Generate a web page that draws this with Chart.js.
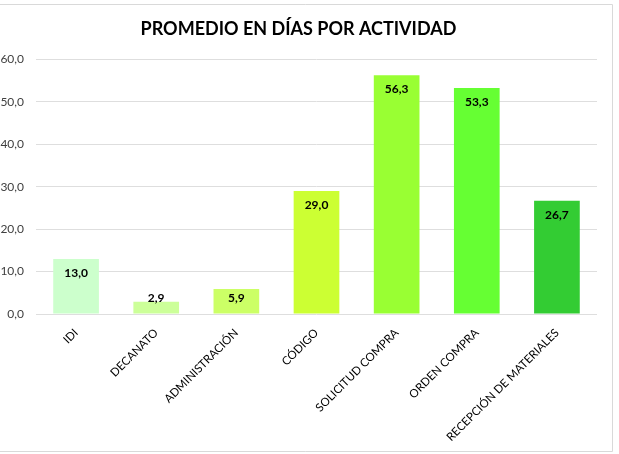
<!DOCTYPE html>
<html>
<head>
<meta charset="utf-8">
<script src="https://cdn.jsdelivr.net/npm/chart.js@4"></script>
<style>
  html, body { margin: 0; padding: 0; background: #fff; }
  #wrap { position: relative; width: 619px; height: 454px; }
</style>
</head>
<body>
<div id="wrap"><canvas id="chart" width="619" height="454"></canvas></div>
<script>
// chart data
var actividades = ['IDI', 'DECANATO', 'ADMINISTRACIÓN', 'CÓDIGO', 'SOLICITUD COMPRA', 'ORDEN COMPRA', 'RECEPCIÓN DE MATERIALES'];
var promedioDias = [13.0, 2.9, 5.9, 29.0, 56.3, 53.3, 26.7];
var coloresBarra = ['#ccffcc', '#ccff99', '#ccff66', '#ccff33', '#99ff33', '#66ff33', '#33cc33'];
var yTicks = [0, 10, 20, 30, 40, 50, 60];

function fmt(v) {
    return v.toFixed(1).replace('.', ',');
}

// outer frame like the Excel chart border
var framePlugin = {
    id: 'frame',
    beforeDraw: function(chart) {
        var ctx = chart.ctx;
        ctx.save();
        ctx.strokeStyle = '#d9d9d9';
        ctx.lineWidth = 1;
        ctx.beginPath();
        ctx.moveTo(-5, 4.5);
        ctx.lineTo(612.5, 4.5);
        ctx.lineTo(612.5, 451.5);
        ctx.lineTo(-5, 451.5);
        ctx.stroke();
        ctx.restore();
    }
};

// value labels inside the top of each bar
var labelPlugin = {
    id: 'barLabels',
    afterDatasetsDraw: function(chart) {
        var ctx = chart.ctx;
        var meta = chart.getDatasetMeta(0);
        var base = chart.scales.y.getPixelForValue(0);
        ctx.save();
        ctx.font = 'bold 12px Lato';
        ctx.fillStyle = '#000';
        ctx.textAlign = 'center';
        ctx.textBaseline = 'middle';
        meta.data.forEach(function(bar, i) {
            var y = Math.min(bar.y + 14, base - 16);
            ctx.fillText(fmt(promedioDias[i]), bar.x, y);
        });
        ctx.restore();
    }
};

var ctx = document.getElementById('chart').getContext('2d');
var chart = new Chart(ctx, {
    type: 'bar',
    data: {
        labels: actividades,
        datasets: [{
            data: promedioDias,
            backgroundColor: coloresBarra,
            borderWidth: 0,
            categoryPercentage: 1.0,
            barPercentage: 0.57
        }]
    },
    options: {
        responsive: false,
        animation: false,
        layout: { padding: { left: 0, right: 22, top: 0, bottom: 0 } },
        plugins: {
            legend: { display: false },
            tooltip: { enabled: false },
            title: {
                display: true,
                text: 'PROMEDIO EN DÍAS POR ACTIVIDAD',
                color: '#000',
                font: { family: 'Lato', size: 18, weight: 'bold' },
                padding: { top: 18, bottom: 20 }
            }
        },
        scales: {
            y: {
                min: 0,
                max: 60,
                afterBuildTicks: function(axis) {
                    axis.ticks = yTicks.map(function(v) { return { value: v }; });
                },
                afterFit: function(axis) { axis.width = 36; },
                border: { display: false },
                grid: { color: '#dedede', drawTicks: false },
                ticks: {
                    padding: 12,
                    color: '#404040',
                    font: { family: 'Lato', size: 12 },
                    callback: function(v) { return fmt(v); }
                }
            },
            x: {
                afterFit: function(axis) { axis.height = 140; },
                border: { display: false },
                grid: { display: false },
                ticks: {
                    minRotation: 45,
                    maxRotation: 45,
                    color: '#000',
                    font: { family: 'Lato', size: 11.5 },
                    padding: 4
                }
            }
        }
    },
    plugins: [framePlugin, labelPlugin]
});
</script>
</body>
</html>
